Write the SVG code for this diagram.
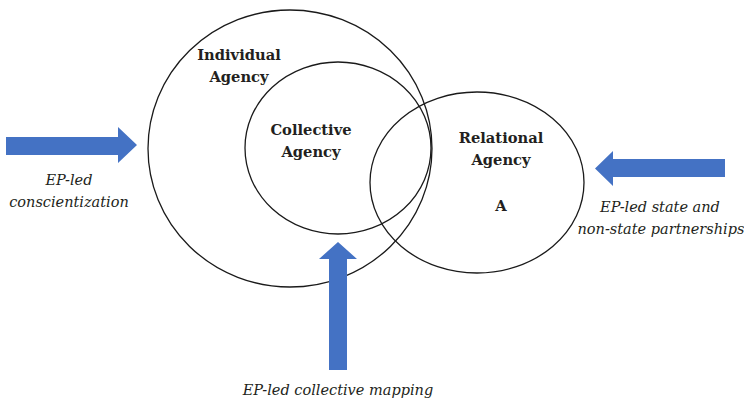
<svg xmlns="http://www.w3.org/2000/svg" width="744" height="405" viewBox="0 0 744 405">
<style>
.c{fill:none;stroke:#1a1a1a;stroke-width:1.3}
.a{fill:#4472c4}
.b{font-family:'DejaVu Serif','Liberation Serif',serif;font-weight:bold;font-size:14.7px;fill:#231f20;text-anchor:middle}
.i{font-family:'DejaVu Serif','Liberation Serif',serif;font-style:italic;font-size:14.5px;fill:#231f20;text-anchor:middle}
</style>
<rect width="744" height="405" fill="#fff"/>
<g id="individual">
<ellipse class="c" cx="290" cy="148.5" rx="142" ry="138.5"/>
<text class="b" x="239" y="60">Individual</text>
<text class="b" x="239" y="82">Agency</text>
</g>
<g id="collective">
<ellipse class="c" cx="338" cy="148" rx="93" ry="86"/>
<text class="b" x="311" y="135">Collective</text>
<text class="b" x="311" y="157">Agency</text>
</g>
<g id="relational">
<ellipse class="c" cx="477" cy="182.5" rx="107" ry="90.5"/>
<text class="b" x="501" y="143">Relational</text>
<text class="b" x="501" y="165">Agency</text>
<text class="b" x="501" y="211">A</text>
</g>
<g id="connectors">
<polygon class="a" points="6,137 118,137 118,127 137,145 118,163 118,155 6,155"/>
<polygon class="a" points="725,159 613,159 613,151 595,168.5 613,186 613,177 725,177"/>
<polygon class="a" points="329,370 329,259 319,259 338,242 357,259 347,259 347,370"/>
</g>
<g id="labels">
<text class="i" x="69" y="185">EP-led</text>
<text class="i" x="69" y="207">conscientization</text>
<text class="i" x="660" y="212">EP-led state and</text>
<text class="i" x="661" y="234">non-state partnerships</text>
<text class="i" x="338" y="395">EP-led collective mapping</text>
</g>
</svg>
